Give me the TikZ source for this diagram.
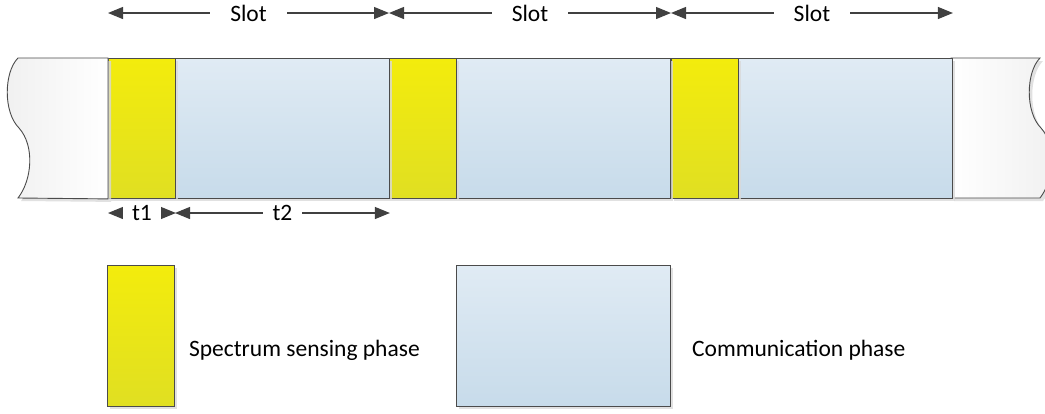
\documentclass[tikz,border=0pt]{standalone}
\usepackage{fontspec}
\setmainfont{Carlito}
\usetikzlibrary{arrows.meta,positioning,shadows}
\definecolor{senseTop}{RGB}{243,236,12}
\definecolor{senseBot}{RGB}{224,223,34}
\definecolor{commTop}{RGB}{224,235,244}
\definecolor{commBot}{RGB}{199,219,234}
\definecolor{edge}{RGB}{75,75,75}
\definecolor{tailgray}{RGB}{240,240,240}
\tikzset{
	shadowed/.style={drop shadow={shadow xshift=3pt, shadow yshift=-3pt, fill=black!15, opacity=.8}},
	phase/.style={draw=edge, line width=0.9pt, anchor=north west, minimum height=140pt, inner sep=0pt, shadowed},
	sensebox/.style={phase, minimum width=67pt, top color=senseTop, bottom color=senseBot},
	commbox/.style={phase, minimum width=214pt, top color=commTop, bottom color=commBot},
	tailbox/.style={draw=edge, line width=0.9pt, shadowed},
	dimline/.style={{Triangle[length=15pt,width=12pt]}-{Triangle[length=15pt,width=12pt]}, draw=black!75, line width=1.2pt},
	dimlabel/.style={fill=white, inner ysep=2pt},
}
\begin{document}
\begin{tikzpicture}[x=1pt, y=-1pt, font=\fontsize{23.5}{28}\selectfont]
	\useasboundingbox (0,0) rectangle (1045,413);
	\path[tailbox, left color=white, right color=tailgray] (951,58) -- (1040,58) .. controls (1026,72) and (1025,112) .. (1041,128) .. controls (1057,146) and (1054,180) .. (1040,198) -- (951,198) -- cycle;
	\foreach \i/\x in {3/671,2/389,1/108}{%
			\node[commbox] (c\i) at (\x+67,58) {};
			\node[sensebox] (s\i) at (\x,58) {};
			}
	\path[tailbox, left color=tailgray, right color=white] (s1.north west) -- (18,58) .. controls (4,72) and (3,112) .. (19,128) .. controls (35,146) and (32,180) .. (18,198) -- (s1.south west) -- cycle;
	\coordinate (toprow) at (0,13);
	\coordinate (lowrow) at (0,213);
	\draw[dimline] (s1.north west |- toprow) -- node[dimlabel, inner xsep=20pt] (slot1) {Slot} (s2.north west |- toprow);
	\draw[dimline] (s2.north west |- toprow) -- node[dimlabel, inner xsep=20pt] (slot2) {Slot} (s3.north west |- toprow);
	\draw[dimline] (s3.north west |- toprow) -- node[dimlabel, inner xsep=20pt] (slot3) {Slot} (c3.north east |- toprow);
	\draw[dimline] (s1.south west |- lowrow) -- node[dimlabel, inner xsep=9pt] (t1) {t1} (s1.south east |- lowrow);
	\draw[dimline] (c1.south west |- lowrow) -- node[dimlabel, inner xsep=10pt] (t2) {t2} (c1.south east |- lowrow);
	\node[sensebox, minimum height=141pt] (lsense) at (107,265) {};
	\node[commbox, minimum height=141pt] (lcomm) at (456,265) {};
	\node[right=14pt of lsense, yshift=-14pt, inner sep=0pt] (lsensetext) {Spectrum sensing phase};
	\node[right=21pt of lcomm, yshift=-14pt, inner sep=0pt] (lcommtext) {Communication phase};
\end{tikzpicture}
\end{document}
